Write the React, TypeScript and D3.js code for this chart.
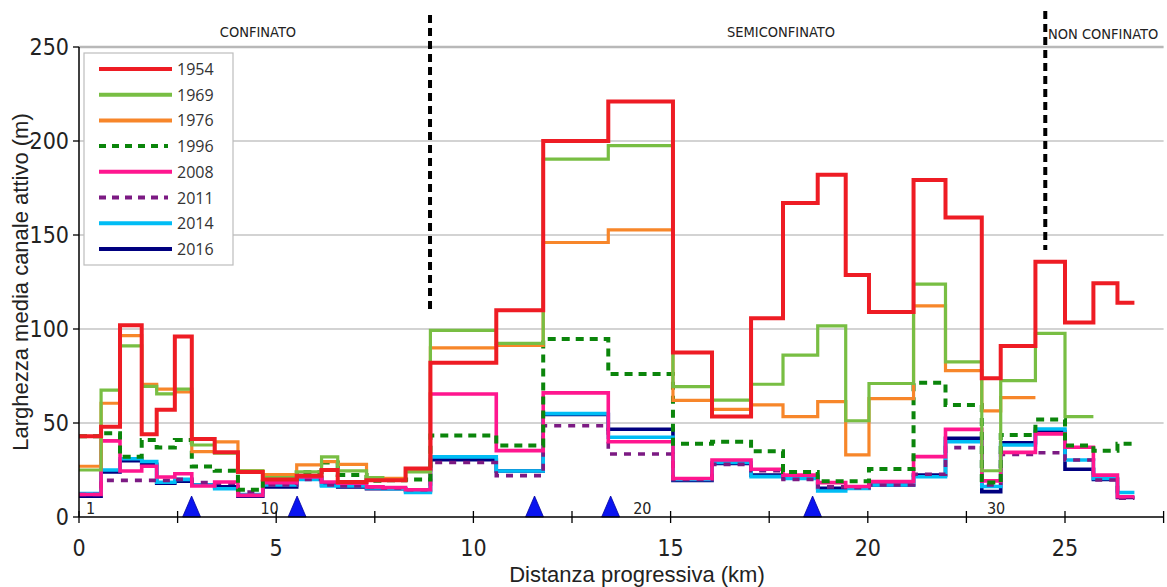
import * as d3 from 'd3'

// reach boundaries along the river (km)
const segEdges = [
  0, 0.56, 1.04, 1.59, 1.97, 2.43, 2.86, 3.44, 4.03, 4.66, 5.52, 6.15, 6.56, 7.29, 7.7, 8.28, 8.91,
  10.58, 11.77, 13.42, 15.06, 16.05, 17.04, 17.85, 18.73, 19.44, 20.03, 21.16, 21.97, 22.89, 23.37,
  24.25, 25.0, 25.72, 26.33, 26.76,
]

// mean active channel width per reach (m)
const w1954 = [43, 48, 102, 44, 57, 96, 41.5, 34.5, 24, 20, 22, 25, 18.6, 19.5, 19.5, 25.8, 82, 110, 200, 221, 87.5, 53.4, 105.7, 167, 182, 128.7, 109, 179.3, 159.3, 73.8, 91, 135.8, 103.4, 124.3, 114]
const w1969 = [25, 67.5, 91, 69.5, 65.5, 68, 38.3, 34, 24.6, 21, 24, 32, 24.5, 21, 19.5, 24, 99.3, 92.4, 190.4, 197.5, 69.3, 62.2, 70.6, 86.1, 101.7, 51.2, 71, 123.9, 82.5, 24.6, 72.5, 97.7, 53.4]
const w1976 = [27, 60.5, 96.5, 70.5, 68, 66.5, 34.8, 40, 24.6, 22.5, 27.7, 29.5, 28, 21, 20.5, 25, 90, 91.3, 146, 152.7, 62, 57.3, 59.6, 53.4, 61.4, 33, 63, 112.3, 77.9, 56.4, 63.5]
const w1996 = [43, 44.5, 32, 41, 37, 41, 26.8, 24.6, 14.5, 20.5, 23.8, 29, 22.4, 19.3, 19.5, 20, 43.3, 38, 94.7, 76, 39, 40, 35, 24, 19, 19, 25.5, 71.4, 59.6, 18.3, 43.6, 51.9, 38, 35.2, 39]
const w2008 = [12, 40.5, 24.5, 27, 21.3, 23, 16.5, 18.6, 11.5, 18.3, 21.3, 18.6, 18, 16, 15.7, 14.5, 65.4, 35.3, 66, 40, 20.5, 30.3, 25.4, 22.3, 18.3, 16.2, 18.8, 32.1, 46.6, 19.2, 34.4, 44.2, 37.1, 22.3, 10.8]
const w2011 = [12, 19.5, 19.5, 19.5, 19.5, 20, 18.3, 18, 13.3, 17, 20, 17, 16.5, 16, 15.5, 14.5, 29, 22, 48.5, 33.5, 20, 28, 24.6, 20, 16, 15.6, 17, 22.7, 36.9, 17, 33.3, 34.2, 30.3, 19.7, 10]
const w2014 = [12.5, 25, 31, 29.5, 18.5, 20, 17, 15, 12, 17, 20, 16.5, 16.5, 15.5, 15, 13, 32, 24.5, 55, 42.4, 20, 29, 21.5, 20.5, 13.8, 15.2, 17, 21.4, 40, 16.2, 38.3, 46.8, 30.3, 20.5, 13]
const w2016 = [11, 24, 30, 28, 18, 19, 17, 16, 11, 16, 21, 17, 16, 15, 15, 14, 30.5, 24.5, 54.5, 46.7, 19.5, 28.5, 22.3, 21.5, 15.2, 15.5, 17, 22.3, 41.8, 13.5, 39.5, 45.4, 25.4, 20, 10.4]

const years = ['1954', '1969', '1976', '1996', '2008', '2011', '2014', '2016']
const widths = [w1954, w1969, w1976, w1996, w2008, w2011, w2014, w2016]

// dams / weirs (km) and reach numbers
const damKm = [2.855, 5.53, 11.55, 13.48, 18.6]
const reachLabels = [
  { n: '1', km: 0.18 },
  { n: '10', km: 4.6 },
  { n: '20', km: 14.05 },
  { n: '30', km: 23.02 },
]
const boundaryKm = [8.9, 24.5]
const yTicks = [0, 50, 100, 150, 200, 250]
const xTicks = [0, 5, 10, 15, 20, 25]

const styles: Record<string, { color: string; w: number; dash?: string }> = {
  '1954': { color: '#ee1c24', w: 4 },
  '1969': { color: '#78be43', w: 3.2 },
  '1976': { color: '#f7862a', w: 3.2 },
  '1996': { color: '#0b850b', w: 4, dash: '8,6' },
  '2008': { color: '#ff168f', w: 3.6 },
  '2011': { color: '#7c1a83', w: 3.6, dash: '7,7' },
  '2014': { color: '#00bdf5', w: 3.6 },
  '2016': { color: '#00007f', w: 3.6 },
}

const narrow = "'Liberation Sans Narrow', 'DejaVu Sans Condensed', 'Liberation Sans', sans-serif"
const arial = "'Liberation Sans', Arial, sans-serif"

export default function App() {
  const W = 1167
  const H = 587
  const x = d3.scaleLinear().domain([0, 27.5]).range([79, 1163.6])
  const y = d3.scaleLinear().domain([0, 250]).range([517, 47])

  const line = d3
    .line<[number, number]>()
    .x(d => x(d[0]))
    .y(d => y(d[1]))
    .curve(d3.curveStepAfter)

  const pathFor = (vals: number[]) => {
    const pts: [number, number][] = vals.map((v, i) => [segEdges[i], v])
    pts.push([segEdges[vals.length], vals[vals.length - 1]])
    return line(pts) || ''
  }

  // drawing order: newest at the bottom, 1954 on top
  const order = [7, 6, 5, 4, 3, 2, 1, 0]
  const minorTicks = d3.range(0, 27.51, 2.5)

  return (
    <svg
      width={W}
      height={H}
      style={{ position: 'absolute', left: 0, top: 0, background: '#fff' }}
      fontFamily={narrow}
    >
      {/* grid */}
      {yTicks.slice(1).map(t => (
        <line
          key={t}
          x1={x(0)}
          x2={x(27.5)}
          y1={y(t)}
          y2={y(t)}
          stroke={t === 250 ? '#b8b8b8' : '#c4c4c4'}
          strokeWidth={t === 250 ? 2.5 : 1.3}
        />
      ))}

      {/* region boundaries */}
      {boundaryKm.map((k, i) => (
        <line
          key={k}
          x1={x(k)}
          x2={x(k)}
          y1={i === 0 ? 15 : 11}
          y2={i === 0 ? 312 : 250}
          stroke="#000"
          strokeWidth={4}
          strokeDasharray="8,5"
        />
      ))}
      <text x={258} y={37} fontSize={14.5} textAnchor="middle" fill="#222">CONFINATO</text>
      <text x={781} y={37} fontSize={14.5} textAnchor="middle" fill="#222">SEMICONFINATO</text>
      <text x={1048} y={39} fontSize={14.5} fill="#222">NON CONFINATO</text>

      {/* series */}
      {order.map(i => {
        const s = styles[years[i]]
        return (
          <path
            key={years[i]}
            d={pathFor(widths[i])}
            fill="none"
            stroke={s.color}
            strokeWidth={s.w}
            strokeDasharray={s.dash}
            strokeLinejoin="miter"
          />
        )
      })}

      {/* dams */}
      {damKm.map(k => (
        <path
          key={k}
          d={`M${x(k) - 9},${y(0)} L${x(k)},${y(0) - 21} L${x(k) + 9},${y(0)} Z`}
          fill="#0a14f0"
          stroke="#0000a0"
          strokeWidth={0.8}
        />
      ))}

      {/* reach numbers */}
      {reachLabels.map(r => (
        <text key={r.n} x={x(r.km)} y={514} fontSize={16} fill="#222">
          {r.n}
        </text>
      ))}

      {/* axes */}
      <line x1={x(0)} x2={x(0)} y1={y(250)} y2={y(0)} stroke="#000" strokeWidth={1.5} />
      {yTicks.map(t => (
        <g key={t}>
          <line x1={x(0) - 6} x2={x(0)} y1={y(t)} y2={y(t)} stroke="#000" strokeWidth={1.3} />
          <text x={69} y={y(t) + 8} fontSize={23} textAnchor="end" fill="#222">
            {t}
          </text>
        </g>
      ))}
      <line x1={x(0)} x2={x(27.5)} y1={y(0)} y2={y(0)} stroke="#000" strokeWidth={1.5} />
      {minorTicks.map(t => (
        <line key={t} x1={x(t)} x2={x(t)} y1={y(0) - 6} y2={y(0) + 6} stroke="#000" strokeWidth={1.3} />
      ))}
      {xTicks.map(t => (
        <text key={t} x={x(t)} y={556} fontSize={23} textAnchor="middle" fill="#222">
          {t}
        </text>
      ))}
      <text x={637} y={582} fontSize={22} textAnchor="middle" fill="#222" fontFamily={arial}>
        Distanza progressiva (km)
      </text>
      <text
        transform="translate(28,282) rotate(-90)"
        fontSize={22}
        textAnchor="middle"
        fill="#222"
        fontFamily={arial}
      >
        Larghezza media canale attivo (m)
      </text>

      {/* legend */}
      <rect x={84} y={53} width={149} height={212} fill="#fff" stroke="#bdbdbd" strokeWidth={1.2} />
      {years.map((yr, i) => {
        const s = styles[yr]
        const ly = 69 + i * 25.7
        return (
          <g key={yr}>
            <line
              x1={99}
              x2={s.dash ? 168 : 172}
              y1={ly}
              y2={ly}
              stroke={s.color}
              strokeWidth={4}
              strokeDasharray={s.dash ? '7,6' : undefined}
            />
            <text x={177} y={ly + 6} fontSize={16} fontFamily="'Open Sans', 'DejaVu Sans', sans-serif" fill="#333">
              {yr}
            </text>
          </g>
        )
      })}
    </svg>
  )
}
